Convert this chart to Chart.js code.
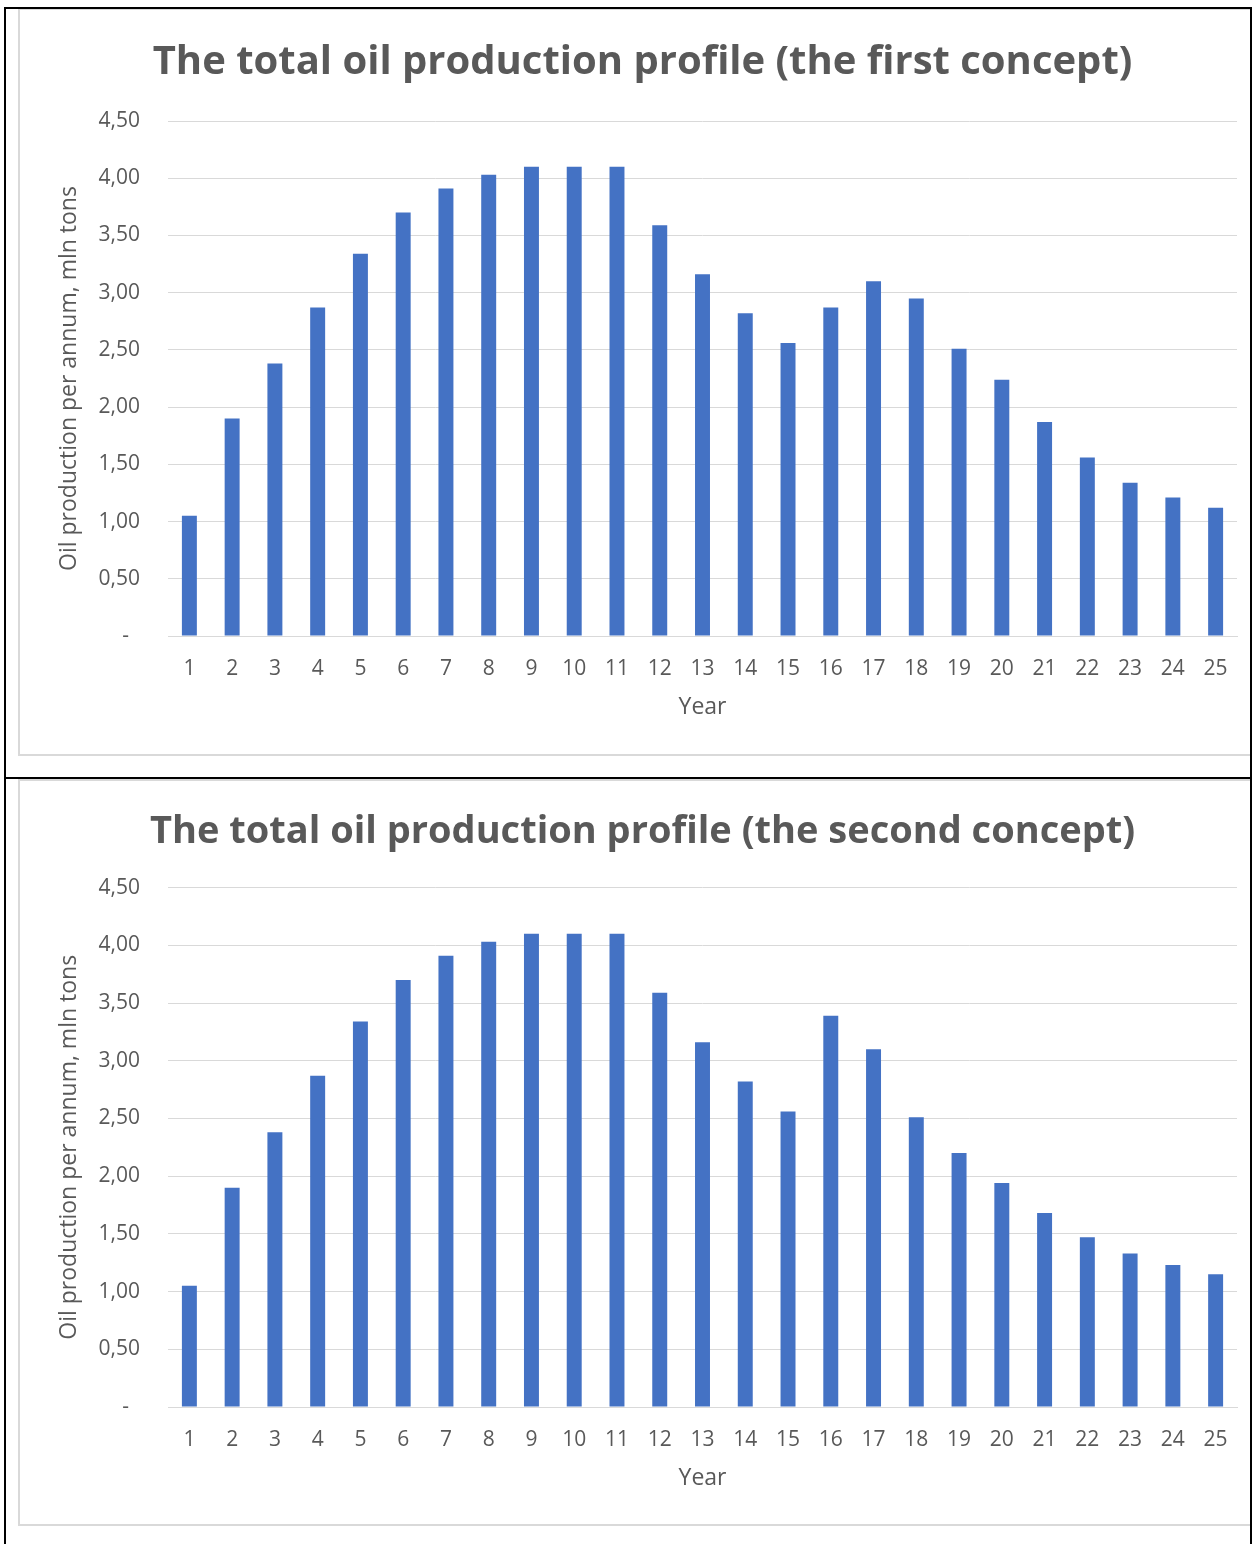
<!DOCTYPE html>
<html>
<head>
<meta charset="utf-8">
<script src="https://cdn.jsdelivr.net/npm/chart.js@4/dist/chart.umd.min.js"></script>
<style>
  html, body { margin: 0; padding: 0; background: #ffffff; }
  body { width: 1257px; height: 1544px; position: relative; overflow: hidden; }
  .frame { position: absolute; box-sizing: border-box; border: 2px solid #d9d9d9; background: #fff; }
  .frame canvas { position: absolute; left: 0; top: 0; }
  .rule { position: absolute; background: #000; }
</style>
</head>
<body>
<div class="frame" id="f1" style="left:18px;top:8px;width:1234px;height:748px;"><canvas id="c1"></canvas></div>
<div class="frame" id="f2" style="left:18px;top:779px;width:1234px;height:747px;"><canvas id="c2"></canvas></div>
<!-- table rules around the two charts -->
<div class="rule" style="left:4px;top:7px;width:1248px;height:2px;"></div>
<div class="rule" style="left:4px;top:7px;width:2px;height:1537px;"></div>
<div class="rule" style="left:1250px;top:7px;width:2px;height:1537px;"></div>
<div class="rule" style="left:4px;top:777px;width:1248px;height:2px;"></div>
<script>
// Years on the x axis
const years = ['1','2','3','4','5','6','7','8','9','10','11','12','13','14','15','16','17','18','19','20','21','22','23','24','25'];

// Oil production per annum, mln tons
const firstConcept = [1.05, 1.90, 2.38, 2.87, 3.34, 3.70, 3.91, 4.03, 4.10, 4.10, 4.10, 3.59, 3.16, 2.82, 2.56,
                      2.87, 3.10, 2.95, 2.51, 2.24, 1.87, 1.56, 1.34, 1.21, 1.12];
const secondConcept = [1.05, 1.90, 2.38, 2.87, 3.34, 3.70, 3.91, 4.03, 4.10, 4.10, 4.10, 3.59, 3.16, 2.82, 2.56,
                       3.39, 3.10, 2.51, 2.20, 1.94, 1.68, 1.47, 1.33, 1.23, 1.15];

// Value axis labels, from 0 upwards in steps of 0.5 (accounting style dash for zero)
const yTickLabels = ['-  ', '0,50', '1,00', '1,50', '2,00', '2,50', '3,00', '3,50', '4,00', '4,50'];

const titles = [
  'The total oil production profile (the first concept)',
  'The total oil production profile (the second concept)'
];

const FONT = "'Open Sans', 'DejaVu Sans', sans-serif";
const GREY_TEXT = '#595959';
const GRID = '#d9d9d9';
const BAR = '#4472c4';
const LEFT_PAD = 28;

function makeChart(canvasId, frameId, title, values, opt) {
  const frame = document.getElementById(frameId);
  const w = frame.clientWidth;
  const h = frame.clientHeight;
  const canvas = document.getElementById(canvasId);
  canvas.style.width = w + 'px';
  canvas.style.height = h + 'px';
  canvas.width = w;
  canvas.height = h;

  return new Chart(canvas, {
    type: 'bar',
    data: {
      labels: years,
      datasets: [{
        data: values,
        backgroundColor: BAR,
        borderWidth: 0,
        barPercentage: 0.35,
        categoryPercentage: 1.0
      }]
    },
    options: {
      responsive: false,
      animation: false,
      devicePixelRatio: 1,
      layout: { padding: { left: LEFT_PAD, right: 13, top: 0, bottom: 0 } },
      plugins: {
        legend: { display: false },
        tooltip: { enabled: false },
        title: {
          display: true,
          text: title,
          color: GREY_TEXT,
          font: { family: FONT, size: opt.titleSize, weight: 'bold', lineHeight: 1.2 },
          padding: { top: opt.titleTop, bottom: opt.titleBottom }
        }
      },
      scales: {
        x: {
          grid: { display: false, drawTicks: false },
          border: { display: true, color: GRID, width: 1 },
          ticks: {
            color: GREY_TEXT,
            font: { family: FONT, size: 21 },
            padding: 20,
            maxRotation: 0,
            autoSkip: false
          },
          title: {
            display: true,
            text: 'Year',
            color: GREY_TEXT,
            font: { family: FONT, size: 23, lineHeight: 1.2 },
            padding: { top: 0, bottom: opt.yearPad }
          },
          afterFit(scale) { scale.height = opt.xHeight; }
        },
        y: {
          min: 0,
          max: 4.5,
          grid: { color: GRID, lineWidth: 1, drawTicks: false },
          border: { display: false },
          ticks: {
            stepSize: 0.5,
            color: GREY_TEXT,
            font: { family: FONT, size: 21 },
            padding: 28,
            callback(value, index) { return yTickLabels[index]; }
          },
          title: {
            display: true,
            text: 'Oil production per annum, mln tons',
            color: GREY_TEXT,
            font: { family: FONT, size: 23, lineHeight: 1.2 },
            padding: { top: 8, bottom: 0 }
          },
          afterFit(scale) { scale.width = 148 - LEFT_PAD; }
        }
      }
    }
  });
}

makeChart('c1', 'f1', titles[0], firstConcept,
  { titleSize: 40, titleTop: 29, titleBottom: 34, xHeight: 118, yearPad: 33 });
makeChart('c2', 'f2', titles[1], secondConcept,
  { titleSize: 38, titleTop: 28, titleBottom: 33, xHeight: 117, yearPad: 32 });
</script>
</body>
</html>
